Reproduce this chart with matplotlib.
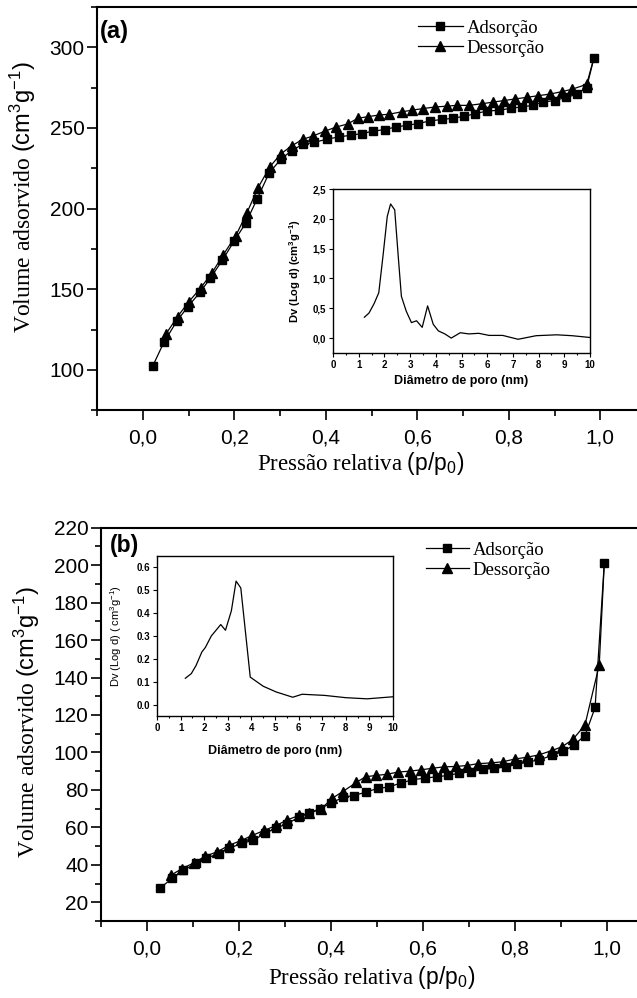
import matplotlib
matplotlib.use("Agg")
from matplotlib import pyplot as plt
from matplotlib.ticker import MultipleLocator, FuncFormatter

# ---- dados (a) ----
p_ads_a = [0.022, 0.046, 0.074, 0.098, 0.125, 0.148, 0.174, 0.200, 0.225, 0.250, 0.276, 0.303, 0.326, 0.350,
           0.374, 0.402, 0.428, 0.455, 0.479, 0.503, 0.529, 0.553, 0.577, 0.601, 0.627, 0.654, 0.678, 0.702,
           0.726, 0.752, 0.778, 0.804, 0.828, 0.852, 0.874, 0.900, 0.926, 0.948, 0.970, 0.986]
v_ads_a = [102.5, 117, 130, 139, 148, 157, 168, 180, 191, 206, 222, 231, 236, 240,
           241, 243, 244.4, 245.5, 246.5, 248, 249, 250.6, 251.6, 252.7, 254.3, 255.3, 256, 257.2,
           258.8, 260.5, 260.9, 262.2, 263, 264, 266, 267, 269, 270.8, 275, 293.4]
p_des_a = [0.986, 0.970, 0.938, 0.916, 0.890, 0.864, 0.840, 0.814, 0.790, 0.765, 0.741, 0.713, 0.686, 0.664,
           0.639, 0.612, 0.588, 0.566, 0.538, 0.516, 0.492, 0.470, 0.448, 0.422, 0.398, 0.372, 0.350, 0.326,
           0.302, 0.278, 0.252, 0.227, 0.203, 0.175, 0.151, 0.127, 0.100, 0.076, 0.050]
v_des_a = [293.4, 277, 274, 272.5, 271, 270, 269, 268, 267, 266, 265, 264, 264, 263.5,
           263, 262, 261, 260, 258.5, 258, 257, 256, 252.5, 250.5, 248, 245, 243, 239,
           234, 226, 213, 197, 183, 171, 160, 151, 142, 133, 122]

# inset (a): distribuicao de poros
d_a = [1.22, 1.4, 1.6, 1.78, 1.95, 2.11, 2.24, 2.4, 2.55, 2.66, 2.85, 3.05, 3.25, 3.47, 3.68, 3.9, 4.1,
       4.35, 4.6, 4.95, 5.28, 5.67, 6.07, 6.6, 7.2, 7.9, 8.7, 9.3, 10.0]
dv_a = [0.35, 0.42, 0.58, 0.76, 1.4, 2.04, 2.25, 2.15, 1.3, 0.7, 0.45, 0.26, 0.29, 0.18, 0.54, 0.23, 0.12,
        0.07, 0.0, 0.09, 0.07, 0.08, 0.045, 0.045, -0.02, 0.04, 0.055, 0.04, 0.01]

# ---- dados (b) ----
p_ads_b = [0.028, 0.055, 0.079, 0.106, 0.128, 0.157, 0.179, 0.206, 0.231, 0.256, 0.280, 0.305, 0.331, 0.353,
           0.375, 0.400, 0.425, 0.449, 0.475, 0.501, 0.525, 0.551, 0.577, 0.604, 0.630, 0.654, 0.678, 0.705,
           0.731, 0.754, 0.780, 0.805, 0.829, 0.853, 0.880, 0.905, 0.928, 0.952, 0.974, 0.994]
v_ads_b = [27.5, 32.8, 37, 40.8, 43.5, 46, 48.8, 51.5, 53, 56.8, 59.5, 62, 65.5, 67.5,
           70, 72.8, 76, 77, 78.7, 80.8, 81.5, 83.6, 85.4, 86.3, 87, 87.7, 88.9, 89.6,
           91, 91.5, 92.3, 93.6, 95, 96, 98.4, 100.5, 104, 109, 124, 201]
p_des_b = [0.994, 0.983, 0.952, 0.926, 0.902, 0.880, 0.852, 0.825, 0.800, 0.773, 0.747, 0.719, 0.695, 0.671,
           0.645, 0.619, 0.595, 0.571, 0.545, 0.521, 0.497, 0.475, 0.455, 0.425, 0.403, 0.379, 0.353, 0.331,
           0.305, 0.281, 0.255, 0.229, 0.205, 0.179, 0.153, 0.126, 0.102, 0.076, 0.052]
v_des_b = [201, 146.7, 114.7, 107, 103, 101, 98.7, 97.4, 96.5, 95, 94.4, 94, 93, 92.5,
           92.3, 91.5, 90.7, 90, 89.5, 88.3, 87.7, 87, 84, 79, 75.6, 70, 67.5, 66.4,
           64, 61, 58.4, 55.7, 53, 50.5, 47, 44.5, 41, 38, 34.4]

# inset (b)
d_b = [1.2, 1.45, 1.65, 1.9, 2.05, 2.3, 2.5, 2.7, 2.9, 3.15, 3.35, 3.55, 3.95, 4.5, 5.05, 5.75, 6.15,
       7.1, 8.0, 8.9, 10.0]
dv_b = [0.115, 0.135, 0.17, 0.23, 0.25, 0.30, 0.325, 0.35, 0.325, 0.41, 0.54, 0.51, 0.12, 0.08, 0.055,
        0.032, 0.045, 0.04, 0.03, 0.025, 0.034]

x_ticks = [0.0, 0.2, 0.4, 0.6, 0.8, 1.0]
y_ticks_a = [100, 150, 200, 250, 300]
y_ticks_b = [20, 40, 60, 80, 100, 120, 140, 160, 180, 200, 220]
ins_y_ticks_a = [0.0, 0.5, 1.0, 1.5, 2.0, 2.5]
ins_y_ticks_b = [0.0, 0.1, 0.2, 0.3, 0.4, 0.5, 0.6]
ins_x_ticks = [0, 1, 2, 3, 4, 5, 6, 7, 8, 9, 10]

plt.rcParams["font.family"] = ["Liberation Sans", "DejaVu Sans"]
plt.rcParams["mathtext.fontset"] = "custom"
plt.rcParams["mathtext.rm"] = "Liberation Serif"
plt.rcParams["mathtext.sf"] = "Liberation Sans"
plt.rcParams["mathtext.bf"] = "Liberation Sans:bold"

virgula = FuncFormatter(lambda v, pos: ("%.1f" % v).replace(".", ","))
SERIF = "Liberation Serif"

fig = plt.figure(figsize=(6.37, 9.98), dpi=100)


def painel(ax, p_ads, v_ads, p_des, v_des, yticks, ylim, yminor):
    ax.plot(p_ads, v_ads, "-ks", ms=6, lw=0.9, label="Adsorção")
    ax.plot(p_des[:2], v_des[:2], "-k", lw=0.9)
    ax.plot(p_des[1:], v_des[1:], "-k^", ms=7, lw=0.9, label="Dessorção")
    ax.set_xlim(-0.1, 1.1)
    ax.set_ylim(*ylim)
    ax.set_xticks(x_ticks)
    ax.xaxis.set_major_formatter(virgula)
    ax.xaxis.set_minor_locator(MultipleLocator(0.1))
    ax.set_yticks(yticks)
    ax.yaxis.set_minor_locator(MultipleLocator(yminor))
    ax.tick_params(which="both", direction="out", top=False, right=False, width=1.2)
    ax.tick_params(which="major", length=7)
    ax.tick_params(which="minor", length=4)
    ax.tick_params(axis="x", labelsize=15, pad=6)
    ax.tick_params(axis="y", labelsize=15, pad=2)
    for s in ax.spines.values():
        s.set_linewidth(1.5)
    ax.set_ylabel(r"Volume adsorvido $\mathsf{(cm^3g^{-1})}$", fontsize=17, family=SERIF)
    ax.set_xlabel(r"Pressão relativa $\mathsf{(p/p_0)}$", fontsize=16.5, family=SERIF)


def inset(ax, d, dv, yticks, ylim, fmt, ylabel, bold):
    w = "bold" if bold else "normal"
    ax.plot(d, dv, "-k", lw=0.9)
    ax.set_xlim(0, 10)
    ax.set_ylim(*ylim)
    ax.set_xticks(ins_x_ticks)
    ax.set_yticks(yticks)
    ax.yaxis.set_major_formatter(fmt)
    ax.xaxis.set_minor_locator(MultipleLocator(0.5))
    ax.tick_params(which="both", direction="out", top=False, right=False, width=0.8, labelsize=7, pad=2)
    ax.tick_params(which="major", length=3)
    ax.tick_params(which="minor", length=1.5)
    for lab in ax.get_xticklabels() + ax.get_yticklabels():
        lab.set_fontweight("bold")
    for s in ax.spines.values():
        s.set_linewidth(1.0)
    ax.set_xlabel("Diâmetro de poro (nm)", fontsize=9, fontweight="bold")
    ax.set_ylabel(ylabel, fontsize=8, fontweight=w)


# ---- (a) ----
ax1 = fig.add_axes([0.1523, 0.589, 0.862, 0.404])
painel(ax1, p_ads_a, v_ads_a, p_des_a, v_des_a, y_ticks_a, (75, 325), 25)
ax1.yaxis.set_label_coords(-0.107, 0.528)
ax1.xaxis.set_label_coords(0.48, -0.1)
ax1.text(0.006, 0.968, "(a)", transform=ax1.transAxes, fontsize=17, fontweight="bold", va="top")
ax1.legend(loc="upper left", bbox_to_anchor=(0.567, 0.992), frameon=False, borderpad=0,
           handlelength=2.4, handletextpad=0.2, labelspacing=0.15,
           prop={"family": SERIF, "size": 13.5})

ins1 = fig.add_axes([0.5228, 0.6463, 0.4035, 0.1643])
inset(ins1, d_a, dv_a, ins_y_ticks_a, (-0.25, 2.5), virgula,
      r"Dv (Log d) (cm$^\mathbf{3}$g$^\mathbf{-1}$)", True)
ins1.yaxis.set_label_coords(-0.115, 0.5)

# ---- (b) ----
ax2 = fig.add_axes([0.1586, 0.0772, 0.8666, 0.394])
painel(ax2, p_ads_b, v_ads_b, p_des_b, v_des_b, y_ticks_b, (10, 220), 10)
ax2.yaxis.set_label_coords(-0.107, 0.506)
ax2.xaxis.set_label_coords(0.49, -0.11)
ax2.text(0.016, 0.985, "(b)", transform=ax2.transAxes, fontsize=16.5, fontweight="bold", va="top")
ax2.legend(loc="upper left", bbox_to_anchor=(0.571, 0.988), frameon=False, borderpad=0,
           handlelength=2.3, handletextpad=0.2, labelspacing=0.15,
           prop={"family": SERIF, "size": 13.5})

ins2 = fig.add_axes([0.2465, 0.2826, 0.3705, 0.1603])
inset(ins2, d_b, dv_b, ins_y_ticks_b, (-0.05, 0.65), FuncFormatter(lambda v, pos: "%.1f" % v),
      r"Dv (Log d) ( cm$^\mathsf{3}$g$^\mathsf{-1}$)", False)
ins2.yaxis.set_label_coords(-0.14, 0.5)
ins2.xaxis.set_label_coords(0.5, -0.18)

fig.savefig("out.png", dpi=100)
